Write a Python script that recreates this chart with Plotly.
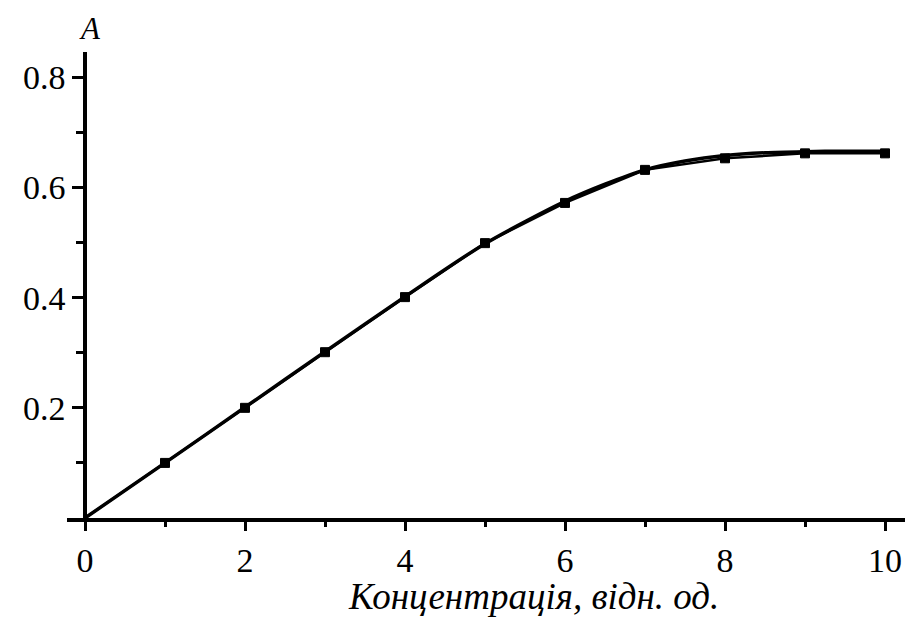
import plotly.graph_objects as go

# Measured data (markers)
conc = [0, 1, 2, 3, 4, 5, 6, 7, 8, 9, 10]
absorb = [0.0, 0.100, 0.200, 0.301, 0.401, 0.499, 0.572, 0.632, 0.653, 0.662, 0.662]

# Smooth fitted curve
fit_x = [0, 1, 2, 3, 4, 5, 6, 6.5, 7, 7.5, 8, 8.5, 9, 9.5, 10]
fit_y = [0.0, 0.100, 0.201, 0.302, 0.402, 0.498, 0.575, 0.606, 0.632, 0.648, 0.658, 0.663, 0.665, 0.666, 0.666]

x_ticks = [0, 2, 4, 6, 8, 10]
y_ticks = [0.2, 0.4, 0.6, 0.8]

FONT = "Liberation Serif"

fig = go.Figure()
fig.add_trace(go.Scatter(x=fit_x, y=fit_y, mode="lines",
                         line=dict(color="black", width=3.5, shape="spline", smoothing=0.8),
                         showlegend=False, cliponaxis=False))
fig.add_trace(go.Scatter(x=conc, y=absorb, mode="lines+markers",
                         line=dict(color="black", width=2.5),
                         marker=dict(symbol="square", size=[0] + [9] * 10, color="black",
                                     opacity=1, line=dict(color="black", width=1)),
                         showlegend=False, cliponaxis=False))

fig.update_layout(
    width=913, height=617,
    margin=dict(l=67, r=8, t=52, b=99),
    paper_bgcolor="white", plot_bgcolor="white",
    font=dict(family=FONT, size=34, color="black"),
    xaxis=dict(range=[-0.225, 10.25], domain=[0, 1], anchor="y",
               tickvals=x_ticks, ticktext=[str(v) for v in x_ticks],
               showgrid=False, zeroline=False, showline=True, linecolor="black", linewidth=3.5,
               ticks="outside", ticklen=9, tickwidth=3, tickcolor="black",
               minor=dict(tickvals=[1, 3, 5, 7, 9], ticks="outside", ticklen=5, tickwidth=3, tickcolor="black"),
               tickfont=dict(family=FONT, size=34)),
    yaxis=dict(range=[0, 0.846], anchor="free", position=0.0215,
               tickvals=y_ticks, ticktext=[f"{v:.1f}" for v in y_ticks],
               showgrid=False, zeroline=False, showline=True, linecolor="black", linewidth=3.5,
               ticks="outside", ticklen=11, tickwidth=3, tickcolor="black",
               minor=dict(tickvals=[0.1, 0.3, 0.5, 0.7], ticks="outside", ticklen=7, tickwidth=3, tickcolor="black"),
               tickfont=dict(family=FONT, size=34)),
    annotations=[
        dict(text="Концентрація, відн. од.", xref="paper", yref="paper",
             x=0.557, y=-0.168, xanchor="center", yanchor="middle", showarrow=False,
             font=dict(family=FONT, size=37, style="italic")),
        dict(text="A", xref="paper", yref="paper", x=0.027, y=1.05,
             xanchor="center", yanchor="middle", showarrow=False,
             font=dict(family=FONT, size=31, style="italic")),
    ],
)

fig.write_html("out.html")
